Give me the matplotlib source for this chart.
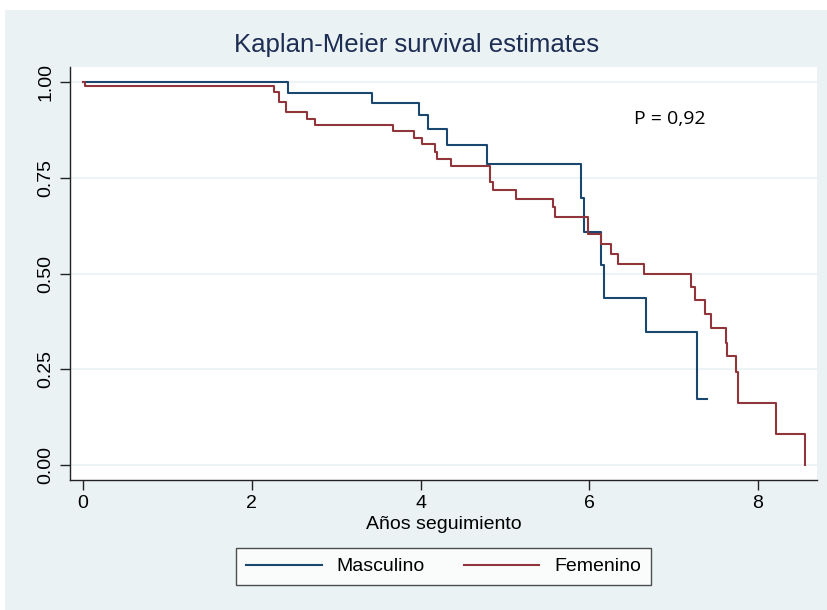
import matplotlib
matplotlib.use("Agg")
import matplotlib.pyplot as plt
from matplotlib.patches import Rectangle

# Kaplan-Meier step points (time in years, survival probability)
masc_t = [0, 2.43, 3.42, 3.98, 4.09, 4.31, 4.79, 5.90, 5.94, 6.14, 6.17, 6.67, 7.28, 7.40]
masc_s = [1.0, 0.972, 0.945, 0.914, 0.877, 0.835, 0.786, 0.697, 0.608, 0.522, 0.436, 0.347, 0.172, 0.172]

fem_t = [0, 0.02, 2.26, 2.32, 2.41, 2.65, 2.75, 3.67, 3.92, 4.02, 4.17, 4.20, 4.36, 4.82, 4.86,
         5.13, 5.57, 5.59, 5.99, 6.14, 6.26, 6.34, 6.65, 7.21, 7.25, 7.37, 7.44, 7.62, 7.63,
         7.74, 7.76, 8.21, 8.56]
fem_s = [1.0, 0.99, 0.974, 0.948, 0.922, 0.903, 0.888, 0.872, 0.854, 0.84, 0.817, 0.80, 0.781,
         0.739, 0.718, 0.695, 0.674, 0.648, 0.604, 0.577, 0.551, 0.525, 0.499, 0.465, 0.431,
         0.394, 0.358, 0.319, 0.285, 0.243, 0.162, 0.081, 0.0]

x_ticks = [0, 2, 4, 6, 8]
y_ticks = [0.0, 0.25, 0.5, 0.75, 1.0]

bg = "#eaf2f3"
blue = "#1a476f"
red = "#90353b"
font = ["Liberation Sans", "DejaVu Sans"]

fig = plt.figure(figsize=(8.28, 6.10), dpi=100)
fig.patch.set_facecolor("white")
fig.patches.append(Rectangle((5 / 828, 0), 1, 1 - 10 / 610, transform=fig.transFigure,
                             facecolor=bg, edgecolor="none", zorder=-10))

ax = fig.add_axes([70 / 828, 1 - 480 / 610, (817 - 70) / 828, (480 - 67) / 610])
ax.set_facecolor("white")

ax.step(masc_t, masc_s, where="post", color=blue, lw=1.5, label="Masculino")
ax.step(fem_t, fem_s, where="post", color=red, lw=1.5, label="Femenino")

ax.set_xlim(-0.155, 8.7)
ax.set_ylim(-0.039, 1.04)
ax.set_xticks(x_ticks)
ax.set_xticklabels([str(v) for v in x_ticks], family=font, fontsize=14)
ax.set_yticks(y_ticks)
ax.set_yticklabels([f"{v:.2f}" for v in y_ticks], family=font, fontsize=14,
                   rotation=90, va="center")
ax.grid(axis="y", color=bg, lw=1.2)
ax.set_axisbelow(True)

for side in ["top", "right"]:
    ax.spines[side].set_visible(False)
for side in ["left", "bottom"]:
    ax.spines[side].set_color("#222222")
    ax.spines[side].set_linewidth(1.0)
ax.tick_params(direction="out", length=7, width=1.0, color="#222222", pad=4)

ax.set_xlabel("Años seguimiento", family=font, fontsize=14, labelpad=3)
fig.text(0.503, 1 - 45 / 610, "Kaplan-Meier survival estimates", family=font,
         fontsize=18.5, color="#1e2d53", ha="center", va="center")
ax.text(6.96, 0.905, "P = 0,92", family=["Open Sans", "DejaVu Sans"], fontsize=14,
        ha="center", va="center")

leg = fig.legend(loc="center", bbox_to_anchor=(443.5 / 828, 1 - 566.5 / 610), ncol=2,
                 prop={"family": font, "size": 14}, frameon=True, fancybox=False,
                 handlelength=3.9, handletextpad=0.75, columnspacing=2.0, borderpad=0.5)
leg.get_frame().set_edgecolor("#222222")
leg.get_frame().set_linewidth(1.0)

fig.savefig("out.png", dpi=100, facecolor=fig.get_facecolor())
